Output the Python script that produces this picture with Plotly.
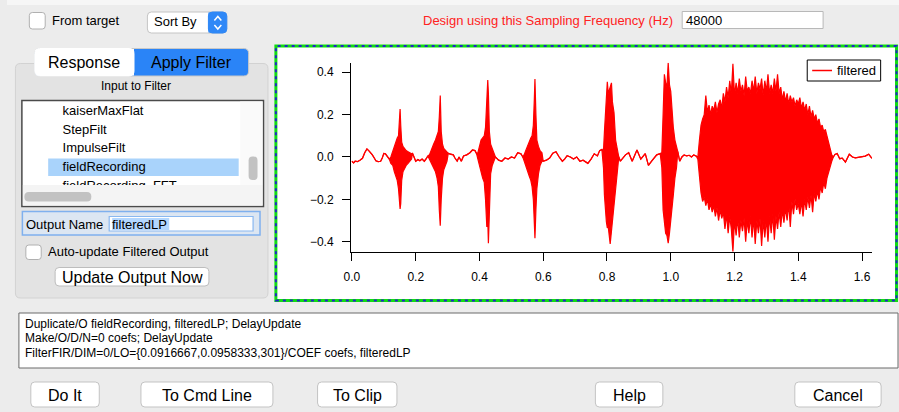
import plotly.graph_objects as go

# ---- waveform data ----
# quiet stretches: a single wiggly line
t_line = [0.0, 0.005, 0.01, 0.017, 0.025, 0.033, 0.04, 0.047, 0.054, 0.06, 0.064, 0.07, 0.075, 0.082,
          0.09, 0.095, 0.1, 0.105, 0.111, 0.117,
          0.19, 0.195, 0.2, 0.207, 0.213, 0.22, 0.227, 0.233, 0.238,
          0.302, 0.31, 0.318, 0.323, 0.33, 0.336, 0.343, 0.35, 0.36, 0.37, 0.378, 0.386, 0.391,
          0.45, 0.46, 0.47, 0.48, 0.49, 0.5, 0.51, 0.52, 0.53, 0.536,
          0.6, 0.61, 0.62, 0.63, 0.64, 0.65, 0.66, 0.667, 0.675, 0.685, 0.695, 0.705, 0.715, 0.725,
          0.74, 0.75, 0.76, 0.77, 0.777, 0.784,
          0.837, 0.842, 0.85, 0.858, 0.868, 0.879, 0.894, 0.906, 0.92, 0.93, 0.94, 0.956, 0.967,
          1.022, 1.028, 1.035, 1.042, 1.05, 1.058, 1.065, 1.072, 1.08,
          1.51, 1.515, 1.522, 1.53, 1.538, 1.548, 1.56, 1.57, 1.579, 1.59, 1.6, 1.61, 1.621, 1.631]
v_line = [-0.02, -0.028, -0.02, -0.022, -0.015, -0.006, 0.02, 0.038, 0.028, 0.02, 0.01, -0.005, -0.018, -0.022,
          -0.02, -0.005, 0.017, 0.015, 0.005, -0.01,
          0.017, 0.0, -0.02, -0.012, -0.018, -0.01, -0.02, -0.008, 0.005,
          0.017, 0.012, 0.01, -0.005, -0.019, 0.0, -0.02, 0.005, 0.01, 0.02, 0.033, 0.03, 0.015,
          0.0, -0.015, -0.02, -0.005, -0.01, 0.0, -0.005, 0.02, 0.015, 0.0,
          -0.02, -0.015, -0.005, 0.018, 0.025, 0.0, -0.02, -0.01, 0.006, 0.0, -0.01, 0.0, -0.02, -0.015,
          -0.03, -0.01, 0.015, 0.005, 0.03, 0.036,
          0.0, -0.02, -0.005, 0.01, 0.02, -0.02, 0.033, -0.01, 0.016, -0.04, -0.02, 0.01, 0.016,
          0.025, -0.02, 0.0, 0.01, 0.005, 0.008, 0.0, 0.01, 0.005,
          0.0, 0.012, 0.016, -0.008, -0.005, -0.024, 0.013, 0.0, -0.004, 0.0, 0.002, 0.004, 0.013, -0.006]

# bursts: upper and lower envelope
t_burst = [0.122, 0.128, 0.133, 0.138, 0.142, 0.146, 0.149, 0.151, 0.153, 0.156, 0.16, 0.165, 0.17, 0.176, 0.182, 0.187,
           0.243, 0.25, 0.256, 0.262, 0.267, 0.271, 0.274, 0.277, 0.28, 0.284, 0.288, 0.293, 0.298,
           0.395, 0.4, 0.405, 0.41, 0.415, 0.419, 0.423, 0.426, 0.428, 0.431, 0.435, 0.44, 0.445,
           0.54, 0.545, 0.55, 0.556, 0.561, 0.565, 0.569, 0.572, 0.574, 0.577, 0.58, 0.585, 0.59, 0.596,
           0.789, 0.792, 0.795, 0.798, 0.801, 0.804, 0.807, 0.81, 0.814, 0.817, 0.822, 0.827, 0.832,
           0.972, 0.976, 0.98, 0.984, 0.988, 0.992, 0.996, 1.0, 1.004, 1.008, 1.013, 1.018,
           1.085, 1.09, 1.095, 1.1, 1.105, 1.11, 1.115, 1.12, 1.125, 1.13, 1.135, 1.14, 1.145, 1.15,
           1.155, 1.16, 1.165, 1.17, 1.175, 1.18, 1.185, 1.19, 1.195, 1.2, 1.205, 1.21, 1.215, 1.22,
           1.225, 1.23, 1.235, 1.24, 1.245, 1.25, 1.255, 1.26, 1.265, 1.27, 1.275, 1.28, 1.285, 1.29,
           1.295, 1.3, 1.305, 1.31, 1.315, 1.32, 1.325, 1.33, 1.335, 1.34, 1.345, 1.35, 1.355, 1.36,
           1.365, 1.37, 1.375, 1.38, 1.385, 1.39, 1.395, 1.4, 1.405, 1.41, 1.415, 1.42, 1.425, 1.43,
           1.435, 1.44, 1.445, 1.45, 1.455, 1.46, 1.465, 1.47, 1.475, 1.48, 1.485, 1.49, 1.495, 1.5, 1.505]
v_top = [0.0, 0.03, 0.05, 0.07, 0.09, 0.1, 0.19, 0.226, 0.15, 0.07, 0.05, 0.04, 0.03, 0.025, 0.02, 0.015,
         0.01, 0.04, 0.06, 0.08, 0.1, 0.12, 0.19, 0.29, 0.12, 0.06, 0.04, 0.03, 0.02,
         0.02, 0.05, 0.08, 0.09, 0.1, 0.14, 0.25, 0.363, 0.3, 0.12, 0.06, 0.04, 0.02,
         0.01, 0.03, 0.05, 0.07, 0.09, 0.1, 0.15, 0.27, 0.368, 0.2, 0.08, 0.05, 0.03, 0.02,
         0.03, 0.12, 0.22, 0.3, 0.355, 0.3, 0.32, 0.33, 0.35, 0.26, 0.21, 0.08, 0.04,
         0.02, 0.2, 0.39, 0.35, 0.33, 0.445, 0.34, 0.31, 0.2, 0.14, 0.08, 0.04,
         0.0, 0.08, 0.15, 0.18, 0.2, 0.29, 0.21, 0.245, 0.2, 0.24, 0.22, 0.26, 0.21, 0.25,
         0.27, 0.23, 0.3, 0.26, 0.33, 0.28, 0.36, 0.3, 0.44, 0.29, 0.35, 0.3, 0.37, 0.31,
         0.34, 0.29, 0.38, 0.31, 0.33, 0.3, 0.36, 0.31, 0.38, 0.3, 0.35, 0.32, 0.37, 0.29,
         0.36, 0.31, 0.39, 0.3, 0.34, 0.3, 0.37, 0.31, 0.39, 0.3, 0.33, 0.27, 0.31, 0.26,
         0.3, 0.25, 0.29, 0.26, 0.28, 0.24, 0.27, 0.25, 0.28, 0.23, 0.26, 0.22, 0.25, 0.2,
         0.24, 0.19, 0.22, 0.18, 0.2, 0.16, 0.18, 0.14, 0.15, 0.12, 0.13, 0.1, 0.07, 0.04, 0.01]
v_bot = [-0.03, -0.04, -0.07, -0.09, -0.11, -0.15, -0.2, -0.245, -0.22, -0.11, -0.07, -0.05, -0.04, -0.03, -0.02, -0.01,
         -0.01, -0.03, -0.05, -0.07, -0.1, -0.14, -0.25, -0.324, -0.2, -0.1, -0.06, -0.04, -0.02,
         -0.01, -0.04, -0.08, -0.1, -0.12, -0.2, -0.33, -0.3, -0.407, -0.2, -0.08, -0.04, -0.02,
         -0.02, -0.04, -0.06, -0.09, -0.11, -0.14, -0.2, -0.3, -0.384, -0.25, -0.15, -0.08, -0.04, -0.02,
         -0.05, -0.18, -0.28, -0.305, -0.335, -0.33, -0.37, -0.41, -0.35, -0.3, -0.22, -0.15, -0.05,
         -0.05, -0.25, -0.3, -0.36, -0.37, -0.407, -0.36, -0.31, -0.24, -0.18, -0.1, -0.05,
         -0.01, -0.09, -0.17, -0.21, -0.19, -0.23, -0.2, -0.25, -0.22, -0.26, -0.23, -0.28, -0.24, -0.3,
         -0.25, -0.29, -0.26, -0.34, -0.27, -0.36, -0.28, -0.34, -0.447, -0.3, -0.37, -0.29, -0.38, -0.3,
         -0.35, -0.29, -0.4, -0.3, -0.36, -0.28, -0.38, -0.29, -0.41, -0.3, -0.36, -0.29, -0.42, -0.3,
         -0.38, -0.29, -0.4, -0.28, -0.36, -0.27, -0.39, -0.28, -0.34, -0.26, -0.33, -0.25, -0.31, -0.24,
         -0.3, -0.22, -0.33, -0.21, -0.27, -0.2, -0.25, -0.22, -0.27, -0.21, -0.28, -0.2, -0.25, -0.19,
         -0.24, -0.18, -0.26, -0.17, -0.21, -0.16, -0.2, -0.14, -0.17, -0.12, -0.15, -0.1, -0.07, -0.04, -0.02]

x_ticks = [0.0, 0.2, 0.4, 0.6, 0.8, 1.0, 1.2, 1.4, 1.6]
y_ticks = [-0.4, -0.2, 0.0, 0.2, 0.4]

list_items = ["kaiserMaxFlat", "StepFilt", "ImpulseFilt", "fieldRecording", "fieldRecording_FFT"]
cmd_lines = ["Duplicate/O fieldRecording, filteredLP; DelayUpdate",
             "Make/O/D/N=0 coefs; DelayUpdate",
             "FilterFIR/DIM=0/LO={0.0916667,0.0958333,301}/COEF coefs, filteredLP"]
buttons = ["Do It", "To Cmd Line", "To Clip", "Help", "Cancel"]

# ---- helpers: screen pixels -> paper coords ----
W, H = 899, 412
FONT = "Liberation Sans"


def X(px):
    return px / W


def Y(py):
    return 1 - py / H


shapes = []
notes = []


def box(x0, y0, x1, y1, fill, line="rgba(0,0,0,0)", lw=1, dash="solid"):
    shapes.append(dict(type="rect", xref="paper", yref="paper",
                       x0=X(x0), y0=Y(y1), x1=X(x1), y1=Y(y0),
                       fillcolor=fill, line=dict(color=line, width=lw, dash=dash), layer="below"))


def rbox(x0, y0, x1, y1, r, fill, line="rgba(0,0,0,0)", lw=1):
    p = (f"M{X(x0 + r)},{Y(y0)} L{X(x1 - r)},{Y(y0)} Q{X(x1)},{Y(y0)} {X(x1)},{Y(y0 + r)} "
         f"L{X(x1)},{Y(y1 - r)} Q{X(x1)},{Y(y1)} {X(x1 - r)},{Y(y1)} "
         f"L{X(x0 + r)},{Y(y1)} Q{X(x0)},{Y(y1)} {X(x0)},{Y(y1 - r)} "
         f"L{X(x0)},{Y(y0 + r)} Q{X(x0)},{Y(y0)} {X(x0 + r)},{Y(y0)} Z")
    shapes.append(dict(type="path", xref="paper", yref="paper", path=p,
                       fillcolor=fill, line=dict(color=line, width=lw), layer="below"))


def seg(pts, color, lw=1):
    p = "M" + " L".join(f"{X(a)},{Y(b)}" for a, b in pts)
    shapes.append(dict(type="path", xref="paper", yref="paper", path=p,
                       line=dict(color=color, width=lw), layer="above"))


def label(px, py, text, size=13, color="black", anchor="left"):
    notes.append(dict(x=X(px), y=Y(py), xref="paper", yref="paper", text=text, showarrow=False,
                      xanchor=anchor, yanchor="middle", font=dict(family=FONT, size=size, color=color)))


# ---- dialog chrome ----
box(0, 0, 899, 5, "#f6f6f6")
# top row
rbox(22.5, 12.5, 38.5, 29, 3, "white", "#b0b0b0")
label(43, 20.5, "From target")
rbox(141.5, 12, 221.5, 33, 4, "white", "#c4c4c4")
rbox(203, 12, 221.5, 33, 4, "#2f88f7", "#2f88f7")
box(203, 12.5, 208, 32.5, "#2f88f7")
seg([(209, 20.5), (212.5, 16.5), (216, 20.5)], "white", 1.5)
seg([(209, 25), (212.5, 29), (216, 25)], "white", 1.5)
label(146, 21.5, "Sort By")
label(673, 20.5, "Design using this Sampling Frequency (Hz)", 13, "#ff2222", "right")
box(680.5, 11.5, 822.5, 28.5, "white", "#b8b8b8")
label(682, 20.5, "48000")

# left group panel
rbox(8.5, 63.5, 263, 298, 5, "#e3e3e3", "#d2d2d2")
rbox(28, 48.5, 243.5, 76, 5, "#2a84f7", "#c8c8c8")
rbox(28, 48.5, 128, 76, 5, "white", "white")
box(118, 49, 128, 75.5, "white")
label(78, 62.5, "Response", 16, "black", "center")
label(185.5, 62.5, "Apply Filter", 16, "black", "center")
label(130, 86.5, "Input to Filter", 12, "black", "center")

# list box
box(15, 100.5, 258.5, 206.5, "white", "#4a4a4a", 1.5)
box(41.5, 158.5, 233.5, 176, "#a9d3fb")
box(235, 101.5, 257.5, 185, "#fafafa")
rbox(243.5, 156.5, 252.5, 180, 4, "#c2c2c2")
box(16, 185, 257.5, 205.5, "#f4f4f4")
rbox(17.5, 192, 85, 201.5, 4.5, "#c2c2c2")

# output name row
box(15.5, 211.5, 255, 235, "#dce6f2", "#7fb0ee", 1.5)
label(17, 224, "Output Name")
box(103, 216.5, 248, 231, "white", "#8ab8f0", 1.2)
box(106, 218, 163.5, 230, "#b3d7ff")
label(104, 224, "filteredLP")

rbox(19, 245, 34.5, 259.5, 3, "white", "#b0b0b0")
label(39.5, 252, "Auto-update Filtered Output")
rbox(48.5, 267.5, 203.5, 286, 4, "white", "#bdbdbd")
label(126, 277, "Update Output Now", 16, "black", "center")

# graph window
box(271, 46, 896.5, 300.5, "white", "#11dd11", 3)
box(271, 46, 896.5, 300.5, "rgba(0,0,0,0)", "#2222cc", 2, "3px,4px")

# legend (drawn by hand like the Igor annotation)
box(806.5, 60, 880.5, 81, "white", "black", 1)
seg([(811.5, 70.5), (831.5, 70.5)], "red", 1.5)
label(834, 70.5, "filtered", 13)

# command box
box(12, 313, 898, 368, "white", "#6a6a6a", 1)
for i, s in enumerate(cmd_lines):
    label(16, 323.5 + i * 14.5, s, 12)

# bottom buttons
btn_x = [(24, 93), (135, 268), (313, 393), (593, 661), (794, 881)]
for name, (a, b) in zip(buttons, btn_x):
    rbox(a, 382, b, 407, 4, "white", "#c3c3c3")
    label((a + b) / 2, 395, name, 16, "black", "center")

# ---- merge quiet line and bursts into one envelope ----
pts = sorted(list(zip(t_line, v_line, v_line)) + list(zip(t_burst, v_top, v_bot)))
t = [p[0] for p in pts]
hi = [p[1] for p in pts]
lo = [p[2] for p in pts]

fig = go.Figure()
fig.add_trace(go.Scatter(x=t, y=hi, mode="lines", name="filtered",
                         line=dict(color="red", width=1.2), showlegend=False))
fig.add_trace(go.Scatter(x=t, y=lo, mode="lines", fill="tonexty", fillcolor="red",
                         line=dict(color="red", width=1.2), showlegend=False))

# list box items, clipped by their own little axes
row_y = [111.7 + i * 18.7 for i in range(len(list_items))]
fig.add_trace(go.Scatter(x=[56] * len(list_items), y=row_y, text=list_items, mode="text",
                         textposition="middle right", textfont=dict(family=FONT, size=13, color="black"),
                         xaxis="x2", yaxis="y2", showlegend=False, hoverinfo="skip", cliponaxis=True))

axis_font = dict(family=FONT, size=12, color="black")
fig.update_layout(
    width=W, height=H, autosize=False,
    margin=dict(l=0, r=0, t=0, b=0),
    paper_bgcolor="#ececec", plot_bgcolor="white",
    showlegend=False,
    xaxis=dict(domain=[X(346.7), X(871.7)], range=[-0.003, 1.631], tickvals=x_ticks,
               tickformat=".1f", showline=True, linecolor="black", linewidth=1,
               ticks="outside", ticklen=8, tickcolor="black", showgrid=False, zeroline=False,
               tickfont=axis_font, ticklabelstandoff=6, fixedrange=True),
    yaxis=dict(domain=[Y(251.7), Y(62.7)], range=[-0.447, 0.445], tickvals=y_ticks,
               tickformat=".1f", showline=True, linecolor="black", linewidth=1,
               ticks="outside", ticklen=8, tickcolor="black", showgrid=False, zeroline=False,
               tickfont=axis_font, ticklabelstandoff=6, fixedrange=True),
    xaxis2=dict(domain=[X(16), X(235)], range=[16, 235], visible=False, anchor="y2"),
    yaxis2=dict(domain=[Y(185), Y(101.5)], range=[185, 101.5], visible=False, anchor="x2"),
    shapes=shapes,
    annotations=notes,
)

# page body margin would shift the whole dialog by 8px
fig.write_html("out.html", config={"displayModeBar": False},
               post_script="document.body.style.margin='0';document.body.style.overflow='hidden';")
